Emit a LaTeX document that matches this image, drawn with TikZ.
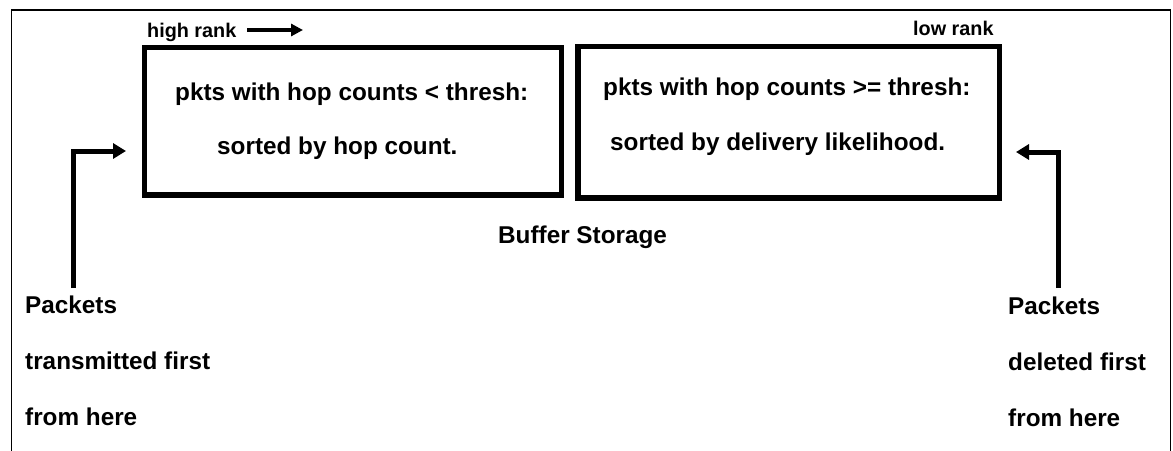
\documentclass[tikz,border=0pt]{standalone}
\usepackage{fontspec}
\setmainfont{Liberation Sans}
\usetikzlibrary{arrows.meta}
\begin{document}
\begin{tikzpicture}[x=1pt,y=-1pt,
  frame/.style={line width=1.3pt},
  storebox/.style={draw,line width=5.5pt,inner sep=0pt},
  txt/.style={anchor=base west,inner sep=0pt,font=\fontsize{24.3}{28}\selectfont\bfseries},
  ranktxt/.style={anchor=base west,inner sep=0pt,font=\fontsize{19.8}{23}\selectfont\bfseries},
  flow/.style={line width=5pt,-{Triangle[length=13pt,width=15pt]}},
  rankarrow/.style={line width=4pt,-{Triangle[length=12pt,width=12pt]}}]
\useasboundingbox (0,0) rectangle (1173,450);
\fill[white] (0,0) rectangle (1173,450);
% open outer frame
\draw[frame] (11.5,452) -- (11.5,10) -- (1170.5,10) -- (1170.5,452);

% the two buffer partitions
\node[storebox,minimum width=417pt,minimum height=147.5pt] (hi) at (353,121.25) {};
\node[storebox,minimum width=421.5pt,minimum height=151.5pt] (lo) at (788.75,122.25) {};

\node[txt] (hi1) at (175,100) {pkts with hop counts < thresh:};
\node[txt] (hi2) at (217,154) {sorted by hop count.};
\node[txt] (lo1) at (603,95) {pkts with hop counts >= thresh:};
\node[txt] (lo2) at (610,150) {sorted by delivery likelihood.};
\node[txt] (buf) at (498,243) {Buffer Storage};

% rank labels
\node[ranktxt] (hr) at (147,37.5) {high rank};
\node[ranktxt] (lr) at (913,35) {low rank};
\coordinate (ra) at (247,30);
\coordinate (rb) at (303,30);
\draw[rankarrow] (ra) -- (rb);

% side labels
\node[txt] (t1) at (25,313) {Packets};
\node[txt] (t2) at (25,369) {transmitted first};
\node[txt] (t3) at (25,425) {from here};
\node[txt] (d1) at (1008,314) {Packets};
\node[txt] (d2) at (1008,370) {deleted first};
\node[txt] (d3) at (1008,426) {from here};

% in/out arrows
\coordinate (la) at (73.5,288);
\coordinate (lb) at (126,151);
\coordinate (rra) at (1058.5,288);
\coordinate (rrb) at (1016,152);
\draw[flow] (la) |- (lb);
\draw[flow] (rra) |- (rrb);
\end{tikzpicture}
\end{document}
